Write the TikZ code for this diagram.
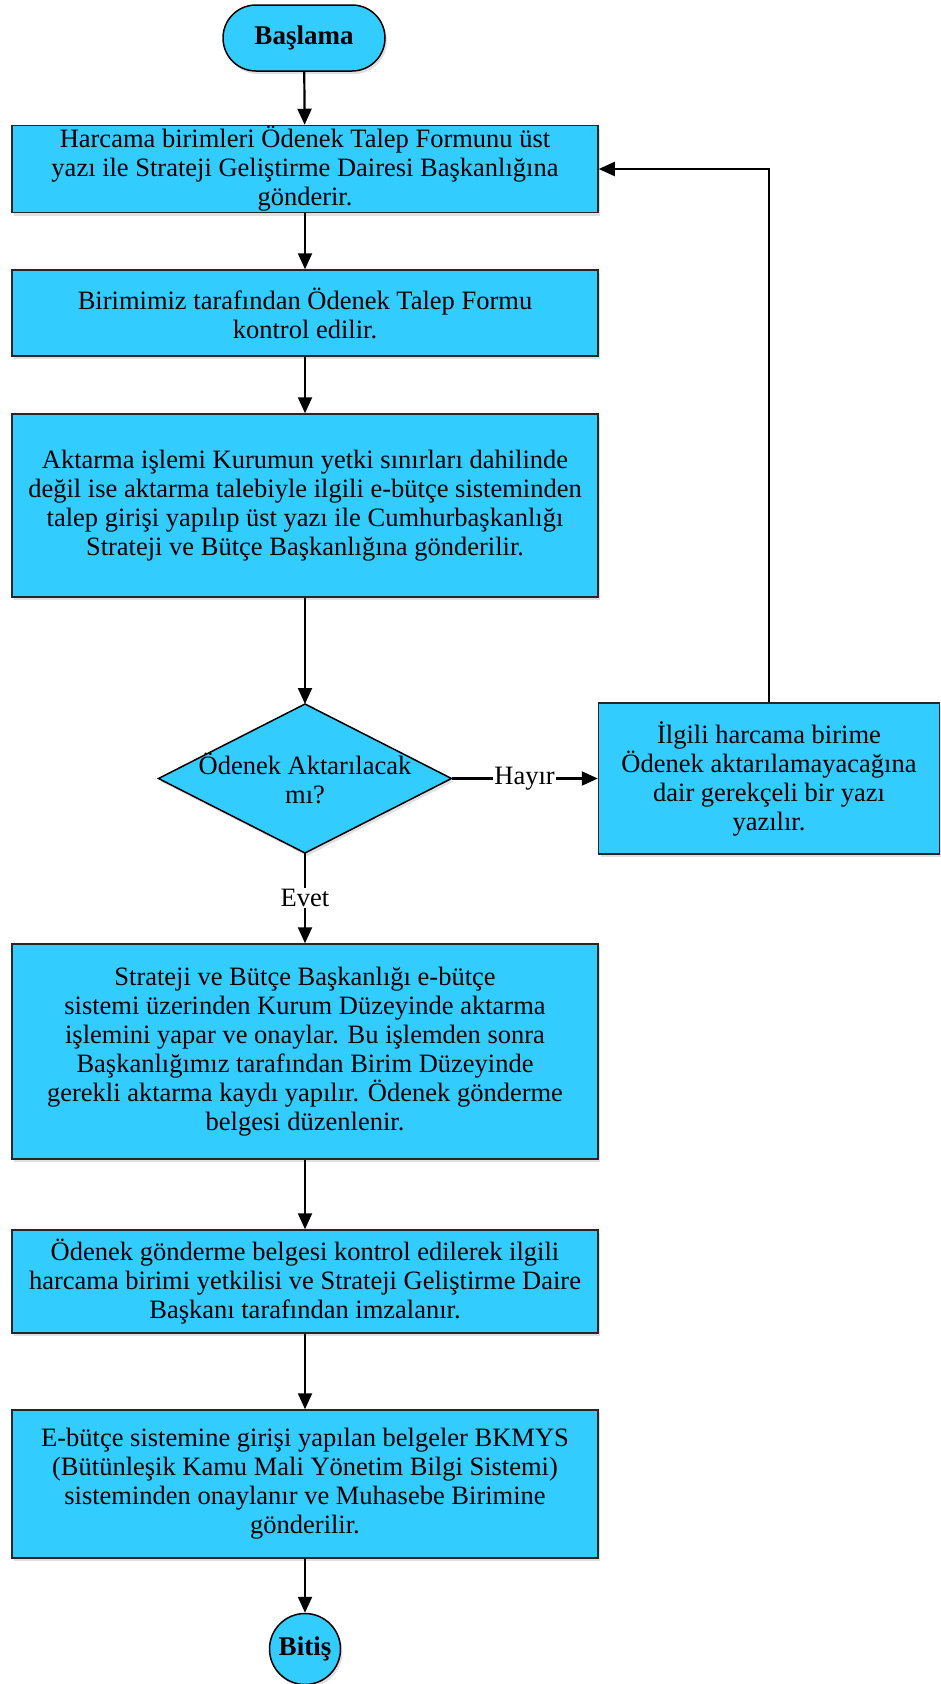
\documentclass[tikz,border=0pt]{standalone}
\usepackage{fontspec}
\setmainfont{Liberation Serif}
\usetikzlibrary{arrows.meta,shapes.geometric,shadows}
\definecolor{boxcyan}{HTML}{33CCFF}
\begin{document}
\begin{tikzpicture}[x=1pt,y=-1pt,
  shd/.style={drop shadow={shadow xshift=2pt,shadow yshift=-3pt,opacity=0.12,fill=black}},
  txt/.style={font=\fontsize{26.5pt}{29pt}\selectfont},
  procbox/.style={draw=black!85,line width=1.5pt,fill=boxcyan,shd,minimum width=586pt,inner sep=0pt,align=center,txt},
  termbox/.style={draw=black,line width=1.5pt,fill=boxcyan,shd,inner sep=0pt,align=center,
    font=\fontsize{27pt}{29pt}\selectfont\bfseries},
  decbox/.style={diamond,draw=black,line width=1.5pt,fill=boxcyan,shd,inner sep=0pt,outer sep=0pt,
    minimum width=293pt,minimum height=149pt},
  flow/.style={draw=black,line width=2.2pt,-{Triangle[length=16pt,width=14pt]}},
  lbl/.style={fill=white,inner sep=1pt,txt}
]
\useasboundingbox (0,0) rectangle (940,1684);
\node[termbox,rounded corners=33pt,minimum width=162pt,minimum height=66pt] (start) at (304,38) {Başlama};
\node[procbox,minimum height=87pt] (b1) at (305,169) {Harcama birimleri Ödenek Talep Formunu üst\\yazı ile Strateji Geliştirme Dairesi Başkanlığına\\gönderir.};
\node[procbox,minimum height=86pt] (b2) at (305,313) {Birimimiz tarafından Ödenek Talep Formu\\kontrol edilir.};
\node[procbox,minimum height=183pt] (b3) at (305,505.5) {Aktarma işlemi Kurumun yetki sınırları dahilinde\\değil ise aktarma talebiyle ilgili e-bütçe sisteminden\\talep girişi yapılıp üst yazı ile Cumhurbaşkanlığı\\Strateji ve Bütçe Başkanlığına gönderilir.};
\node[decbox,label={[align=center,txt]center:Ödenek Aktarılacak\\mı?}] (d) at (305,778.5) {};
\node[procbox,minimum width=341pt,minimum height=151pt] (r) at (769,778.5) {İlgili harcama birime\\Ödenek aktarılamayacağına\\dair gerekçeli bir yazı\\yazılır.};
\node[procbox,minimum height=215pt] (b4) at (305,1051.5) {Strateji ve Bütçe Başkanlığı e-bütçe\\sistemi üzerinden Kurum Düzeyinde aktarma\\işlemini yapar ve onaylar. Bu işlemden sonra\\Başkanlığımız tarafından Birim Düzeyinde\\gerekli aktarma kaydı yapılır. Ödenek gönderme\\belgesi düzenlenir.};
\node[procbox,minimum height=103pt] (b5) at (305,1281.5) {Ödenek gönderme belgesi kontrol edilerek ilgili\\harcama birimi yetkilisi ve Strateji Geliştirme Daire\\Başkanı tarafından imzalanır.};
\node[procbox,minimum height=148pt] (b6) at (305,1484) {E-bütçe sistemine girişi yapılan belgeler BKMYS\\(Bütünleşik Kamu Mali Yönetim Bilgi Sistemi)\\sisteminden onaylanır ve Muhasebe Birimine\\gönderilir.};
\node[termbox,circle,minimum size=71pt] (end) at (305,1649) {Bitiş};

\draw[flow] (start) -- (b1);
\draw[flow] (b1) -- (b2);
\draw[flow] (b2) -- (b3);
\draw[flow] (b3) -- (d);
\draw[flow] (d) -- node[lbl] {Hayır} (r);
\draw[flow] (d) -- node[lbl,pos=0.5] {Evet} (b4);
\draw[flow] (r.north) |- (b1.east);
\draw[flow] (b4) -- (b5);
\draw[flow] (b5) -- (b6);
\draw[flow] (b6) -- (end);
\end{tikzpicture}
\end{document}
